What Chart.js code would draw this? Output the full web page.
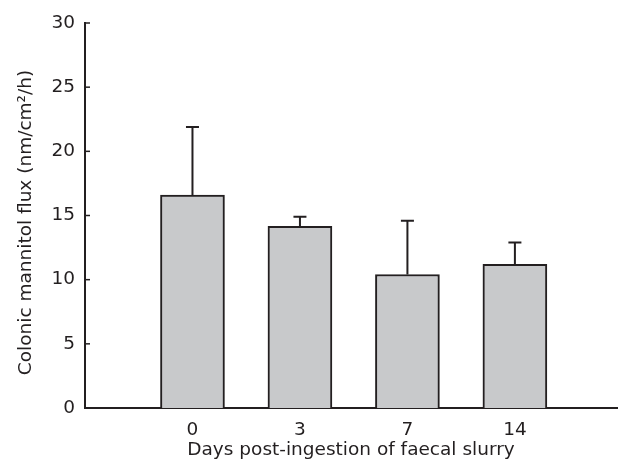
<!DOCTYPE html>
<html>
<head>
<meta charset="utf-8">
<script src="https://cdn.jsdelivr.net/npm/chart.js@4"></script>
<style>
  html, body { margin: 0; padding: 0; background: #fff; }
  #wrap { width: 618px; height: 468px; }
</style>
</head>
<body>
<div id="wrap"><canvas id="fluxChart"></canvas></div>
<script>
// données
const days = ["0", "3", "7", "14"];
const fluxMean = [16.6, 14.15, 10.4, 11.2];
const fluxUpper = [21.9, 14.9, 14.6, 12.9];
const yTicks = [0, 5, 10, 15, 20, 25, 30];
const yTitle = "Colonic mannitol flux (nm/cm²/h)";

const ink = "#231f20";
const font = { family: "'DejaVu Sans', sans-serif", size: 18.5 };

// barres d'erreur (seulement vers le haut), graduations vers l'intérieur, titre de l'axe Y
const extras = {
    id: "extras",
    afterDatasetsDraw(chart) {
        const ctx = chart.ctx;
        const y = chart.scales.y;
        const meta = chart.getDatasetMeta(0);
        ctx.save();
        ctx.strokeStyle = ink;
        ctx.lineWidth = 2;
        meta.data.forEach((bar, i) => {
            const top = y.getPixelForValue(fluxUpper[i]);
            ctx.beginPath();
            ctx.moveTo(bar.x, bar.y);
            ctx.lineTo(bar.x, top);
            ctx.moveTo(bar.x - 6.5, top);
            ctx.lineTo(bar.x + 6.5, top);
            ctx.stroke();
        });
        ctx.lineWidth = 1.5;
        yTicks.forEach(v => {
            const py = y.getPixelForValue(v);
            ctx.beginPath();
            ctx.moveTo(chart.chartArea.left, py);
            ctx.lineTo(chart.chartArea.left + 5, py);
            ctx.stroke();
        });
        // titre Y un peu décalé vers le bas comme sur l'original
        ctx.translate(26, (y.top + y.bottom) / 2 + 7);
        ctx.rotate(-Math.PI / 2);
        ctx.fillStyle = ink;
        ctx.font = `${font.size}px ${font.family}`;
        ctx.textAlign = "center";
        ctx.textBaseline = "middle";
        ctx.fillText(yTitle, 0, 0);
        ctx.restore();
    }
};

new Chart(document.getElementById("fluxChart"), {
    type: "bar",
    data: {
        datasets: [{
            data: fluxMean.map((v, i) => ({ x: i + 1, y: v })),
            backgroundColor: "#c8c9cb",
            borderColor: ink,
            borderWidth: 2,
            borderSkipped: "bottom",
            barThickness: 64
        }]
    },
    options: {
        responsive: true,
        maintainAspectRatio: false,
        animation: false,
        layout: { padding: { top: 23, right: 1, left: 0, bottom: 0 } },
        plugins: { legend: { display: false }, tooltip: { enabled: false } },
        scales: {
            x: {
                type: "linear",
                offset: false,
                min: 0,
                max: days.length + 0.95,
                afterBuildTicks: s => { s.ticks = days.map((d, i) => ({ value: i + 1 })); },
                afterFit: s => { s.height = 60; },
                grid: { display: false, drawTicks: false, offset: false },
                border: { display: true, color: ink, width: 2 },
                ticks: { color: ink, font, padding: 11, autoSkip: false, maxRotation: 0,
                         callback: v => days[v - 1] },
                title: { display: true, text: "Days post-ingestion of faecal slurry", color: ink, font,
                         padding: { top: 0, bottom: 7 } }
            },
            y: {
                min: 0,
                max: 30,
                afterBuildTicks: s => { s.ticks = yTicks.map(v => ({ value: v })); },
                afterFit: s => { s.width = 85; },
                grid: { display: false, drawTicks: false },
                border: { display: true, color: ink, width: 2 },
                ticks: { color: ink, font, padding: 10 },
                title: { display: false }
            }
        }
    },
    plugins: [extras]
});
</script>
</body>
</html>
